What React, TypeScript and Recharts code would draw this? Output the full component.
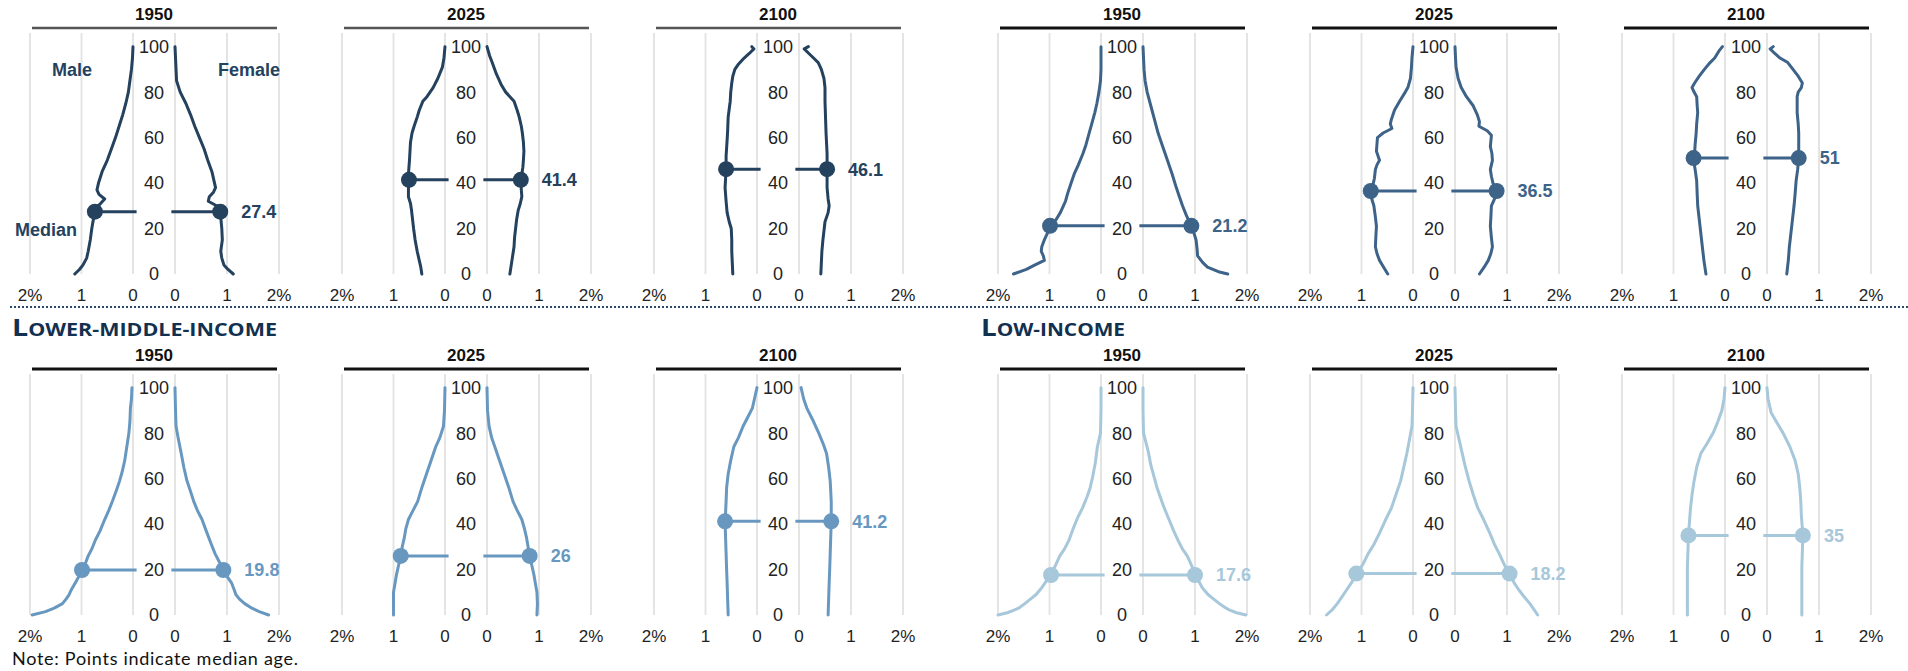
import React from 'react';
import {
  ScatterChart,
  Scatter,
  XAxis,
  YAxis,
  CartesianGrid,
  ReferenceLine,
  ReferenceDot,
} from 'recharts';

// [age, % of population]
type Pair = [number, number];

const YEARS = ['1950', '2025', '2100'];
const SECTION_TITLES = ['Lower-middle-income', 'Low-income'];
const GROUP_COLORS = ['#24415e', '#3e6388', '#6898c0', '#a7c7da'];
const AGE_TICKS = [0, 20, 40, 60, 80, 100];
const PCT_TICKS = [0, 1, 2];

// panel order: high 1950/2025/2100, upper-middle, lower-middle, low
const MEDIAN_AGES = [27.4, 41.4, 46.1, 21.2, 36.5, 51, 19.8, 26, 41.2, 17.6, 18.2, 35];
const MEDIAN_MALE_PCT = [0.74, 0.7, 0.6, 0.99, 0.82, 0.61, 0.99, 0.86, 0.62, 0.97, 1.1, 0.71];
const MEDIAN_FEMALE_PCT = [0.87, 0.65, 0.54, 0.93, 0.8, 0.61, 0.93, 0.82, 0.62, 1.0, 1.05, 0.69];

const high1950Male: Pair[] = [[100,0],[95,0.01],[90,0.03],[85,0.06],[80,0.09],[75,0.14],[70,0.2],[65,0.27],[60,0.34],[55,0.42],[50,0.5],[45,0.6],[40,0.67],[37,0.7],[35,0.66],[33,0.55],[31,0.63],[29,0.73],[27,0.75],[24,0.77],[20,0.8],[15,0.83],[10,0.87],[7,0.9],[4,0.97],[2,1.04],[0,1.13]];
const high1950Female: Pair[] = [[100,0],[95,0.01],[90,0.02],[85,0.03],[80,0.1],[75,0.21],[70,0.3],[65,0.38],[60,0.47],[55,0.56],[50,0.63],[45,0.71],[40,0.76],[38,0.78],[36,0.74],[34,0.66],[32,0.64],[30,0.8],[28,0.86],[25,0.88],[20,0.9],[15,0.91],[10,0.88],[7,0.9],[4,0.94],[2,1.02],[0,1.12]];
const high2025Male: Pair[] = [[100,0],[95,0.02],[91,0.05],[86,0.14],[82,0.23],[78,0.35],[76,0.43],[72,0.5],[69,0.54],[65,0.6],[62,0.64],[58,0.67],[54,0.68],[50,0.69],[47,0.7],[44,0.71],[41,0.7],[37,0.71],[34,0.71],[31,0.67],[28,0.65],[24,0.63],[20,0.61],[15,0.58],[10,0.54],[6,0.5],[3,0.47],[0,0.45]];
const high2025Female: Pair[] = [[100,0],[96,0.05],[93,0.1],[88,0.18],[83,0.28],[80,0.36],[78,0.44],[76,0.52],[72,0.58],[69,0.62],[65,0.66],[62,0.68],[58,0.7],[54,0.71],[50,0.7],[47,0.69],[44,0.67],[41,0.65],[37,0.66],[34,0.67],[31,0.64],[28,0.6],[24,0.57],[20,0.55],[16,0.53],[12,0.52],[6,0.48],[0,0.44]];
const high2100Male: Pair[] = [[100,0.1],[99,0.06],[97,0.15],[95,0.25],[92,0.37],[90,0.43],[87,0.47],[84,0.49],[80,0.51],[76,0.52],[69,0.56],[63,0.57],[59,0.58],[52,0.6],[46,0.6],[42,0.61],[38,0.62],[32,0.6],[27,0.58],[23,0.54],[20,0.5],[15,0.49],[10,0.49],[5,0.48],[0,0.47]];
const high2100Female: Pair[] = [[100,0.18],[99,0.1],[97,0.19],[95,0.28],[93,0.37],[90,0.43],[86,0.48],[82,0.5],[76,0.5],[69,0.51],[62,0.52],[53,0.54],[46,0.54],[38,0.54],[33,0.56],[30,0.58],[27,0.56],[23,0.5],[19,0.48],[15,0.46],[10,0.44],[5,0.43],[0,0.42]];

const upper1950Male: Pair[] = [[100,0],[90,0],[85,0.01],[80,0.04],[75,0.08],[71,0.12],[66,0.18],[62,0.23],[57,0.29],[53,0.35],[48,0.44],[44,0.52],[40,0.58],[36,0.64],[32,0.69],[30,0.73],[27,0.79],[24,0.87],[21,0.98],[18,1.04],[15,1.1],[12,1.15],[10,1.16],[8,1.12],[6,1.1],[4,1.28],[2,1.45],[0,1.7]];
const upper1950Female: Pair[] = [[100,0],[90,0.02],[85,0.04],[80,0.08],[74,0.15],[68,0.22],[62,0.29],[56,0.38],[50,0.47],[44,0.56],[38,0.64],[34,0.7],[30,0.76],[26,0.83],[21,0.93],[18,0.98],[15,1.02],[11,1.04],[8,1.05],[5,1.15],[3,1.24],[1,1.45],[0,1.63]];
const upper2025Male: Pair[] = [[100,0],[95,0.02],[91,0.03],[86,0.05],[82,0.1],[80,0.15],[76,0.26],[72,0.36],[68,0.42],[66,0.44],[64,0.41],[62,0.58],[60,0.69],[57,0.7],[54,0.71],[50,0.65],[48,0.7],[46,0.73],[42,0.75],[39,0.78],[36,0.82],[33,0.8],[30,0.76],[25,0.73],[21,0.71],[17,0.72],[12,0.73],[9,0.7],[6,0.65],[3,0.57],[0,0.49]];
const upper2025Female: Pair[] = [[100,0],[95,0.01],[91,0.02],[86,0.06],[82,0.12],[78,0.22],[74,0.35],[70,0.43],[67,0.47],[65,0.46],[63,0.62],[61,0.7],[56,0.68],[53,0.71],[50,0.72],[46,0.68],[43,0.7],[40,0.73],[36,0.8],[33,0.76],[30,0.7],[25,0.69],[21,0.68],[16,0.7],[12,0.72],[9,0.69],[6,0.64],[3,0.56],[0,0.47]];
const upper2100Male: Pair[] = [[100,0.05],[98,0.12],[95,0.2],[93,0.29],[90,0.4],[87,0.5],[84,0.59],[82,0.64],[80,0.6],[78,0.55],[74,0.54],[71,0.53],[66,0.55],[62,0.56],[57,0.58],[53,0.59],[50,0.61],[46,0.58],[41,0.55],[35,0.54],[30,0.53],[24,0.5],[18,0.47],[12,0.44],[6,0.41],[0,0.37]];
const upper2100Female: Pair[] = [[100,0.12],[99,0.06],[97,0.15],[95,0.25],[93,0.4],[90,0.5],[87,0.6],[84,0.68],[82,0.66],[80,0.6],[78,0.58],[74,0.58],[71,0.58],[66,0.6],[62,0.61],[56,0.61],[51,0.61],[46,0.59],[41,0.56],[35,0.54],[30,0.52],[24,0.49],[18,0.46],[12,0.43],[6,0.41],[0,0.38]];

const lower1950Male: Pair[] = [[100,0.02],[95,0.03],[91,0.05],[85,0.06],[80,0.08],[74,0.12],[68,0.16],[63,0.21],[59,0.26],[55,0.32],[50,0.4],[46,0.47],[42,0.55],[37,0.64],[33,0.73],[29,0.8],[26,0.87],[23,0.92],[20,0.99],[17,1.05],[15,1.1],[13,1.15],[11,1.2],[9,1.24],[7,1.3],[5,1.37],[3,1.53],[1.5,1.7],[0,1.96]];
const lower1950Female: Pair[] = [[100,0],[90,0.01],[83,0.02],[78,0.06],[71,0.12],[65,0.17],[59,0.23],[55,0.29],[50,0.36],[46,0.43],[42,0.52],[37,0.6],[31,0.7],[27,0.77],[23,0.86],[20,0.93],[17,1.0],[14,1.09],[11,1.14],[9,1.17],[7,1.24],[5,1.34],[3,1.48],[1.5,1.62],[0,1.8]];
const lower2025Male: Pair[] = [[100,0],[90,0.01],[83,0.03],[78,0.1],[74,0.18],[68,0.27],[62,0.36],[56,0.45],[50,0.53],[46,0.62],[42,0.71],[38,0.76],[34,0.79],[30,0.83],[26,0.86],[22,0.9],[18,0.94],[14,0.97],[10,1.0],[5,1.0],[0,1.0]];
const lower2025Female: Pair[] = [[100,0],[90,0.01],[83,0.04],[78,0.09],[74,0.15],[68,0.24],[62,0.33],[56,0.42],[50,0.5],[46,0.58],[42,0.67],[38,0.72],[34,0.76],[30,0.79],[26,0.82],[22,0.86],[18,0.9],[14,0.93],[10,0.96],[5,0.97],[0,0.96]];
const lower2100Male: Pair[] = [[100,0],[95,0.05],[91,0.09],[87,0.18],[83,0.27],[78,0.36],[74,0.45],[68,0.51],[62,0.56],[56,0.59],[50,0.6],[45,0.61],[41,0.62],[34,0.61],[27,0.6],[20,0.59],[14,0.58],[7,0.57],[0,0.56]];
const lower2100Female: Pair[] = [[100,0.04],[95,0.09],[91,0.15],[86,0.26],[80,0.38],[75,0.47],[71,0.53],[65,0.57],[59,0.6],[50,0.62],[41,0.62],[34,0.61],[27,0.6],[20,0.59],[14,0.58],[7,0.57],[0,0.56]];

const low1950Male: Pair[] = [[100,0],[90,0],[80,0.01],[74,0.07],[67,0.11],[61,0.16],[56,0.21],[52,0.27],[47,0.36],[43,0.45],[38,0.54],[33,0.62],[29,0.71],[26,0.8],[22,0.88],[18,0.97],[15,1.06],[12,1.15],[9,1.26],[7,1.37],[5,1.48],[3,1.6],[2,1.7],[1,1.82],[0,2.0]];
const low1950Female: Pair[] = [[100,0],[90,0],[80,0.01],[72,0.1],[66,0.15],[61,0.21],[56,0.27],[52,0.33],[47,0.41],[42,0.5],[37,0.59],[33,0.67],[29,0.76],[26,0.85],[22,0.93],[18,1.0],[15,1.07],[12,1.14],[9,1.25],[7,1.36],[5,1.47],[3,1.6],[2,1.68],[1,1.8],[0,1.98]];
const low2025Male: Pair[] = [[100,0],[90,0.01],[83,0.02],[77,0.07],[71,0.12],[65,0.18],[59,0.24],[53,0.33],[47,0.42],[42,0.53],[36,0.65],[31,0.76],[27,0.87],[22,0.98],[18,1.1],[14,1.2],[11,1.29],[8,1.38],[5,1.47],[2,1.58],[0,1.68]];
const low2025Female: Pair[] = [[100,0],[90,0.01],[83,0.02],[77,0.08],[71,0.14],[65,0.2],[59,0.27],[53,0.35],[47,0.44],[42,0.55],[36,0.67],[31,0.76],[27,0.85],[22,0.95],[18,1.05],[14,1.14],[11,1.23],[8,1.33],[5,1.44],[2,1.53],[0,1.59]];
const low2100Male: Pair[] = [[100,0],[95,0.02],[90,0.06],[85,0.14],[80,0.23],[75,0.36],[71,0.47],[65,0.55],[59,0.6],[53,0.64],[47,0.67],[41,0.69],[35,0.71],[28,0.72],[21,0.73],[10,0.73],[0,0.73]];
const low2100Female: Pair[] = [[100,0],[95,0.02],[89,0.08],[85,0.18],[80,0.31],[74,0.44],[68,0.54],[62,0.6],[56,0.63],[50,0.65],[44,0.66],[35,0.69],[28,0.68],[21,0.67],[10,0.67],[0,0.67]];

const MALE = [
  high1950Male, high2025Male, high2100Male,
  upper1950Male, upper2025Male, upper2100Male,
  lower1950Male, lower2025Male, lower2100Male,
  low1950Male, low2025Male, low2100Male,
];
const FEMALE = [
  high1950Female, high2025Female, high2100Female,
  upper1950Female, upper2025Female, upper2100Female,
  lower1950Female, lower2025Female, lower2100Female,
  low1950Female, low2025Female, low2100Female,
];

const FONT = '"Liberation Sans", Arial, sans-serif';
const TITLE_FONT = '"Open Sans", Lato, sans-serif';
const NOTE_FONT = 'Lato, "Open Sans", sans-serif';
const GROUP_X = [30, 998];
const ROW_Y = [0, 341];
const PANEL_STEP = 312;
const PLOT_H = 241;
const AXIS_H = 30;
const SIDE_W = 103;
const GAP_W = 42;
const PAD = 20;

const toPoints = (pairs: Pair[]) => pairs.map(([age, pct]) => ({ x: pct, y: age }));
const pctLabel = (v: number) => (v === 2 ? '2%' : String(v));
const noDot = () => <g />;

const AgeTick = (props: any) => {
  const { x, y, payload } = props;
  return (
    <text x={x} y={y} dy="0.355em" textAnchor="middle" fontSize={18} fill="#222" fontFamily={FONT}>
      {payload.value}
    </text>
  );
};

const xTick = { fontSize: 17, fill: '#222', fontFamily: FONT };

function Side({ pairs, median, dotPct, color, female, left, top }: any) {
  const width = female ? GAP_W + SIDE_W + 1 + PAD : SIDE_W + PAD * 2;
  return (
    <div style={{ position: 'absolute', left, top }}>
      <ScatterChart
        width={width}
        height={PLOT_H + AXIS_H}
        margin={female ? { top: 0, right: PAD, bottom: 0, left: 0 } : { top: 0, right: PAD, bottom: 0, left: PAD }}
      >
        <CartesianGrid horizontal={false} stroke="#e4e4e4" strokeWidth={2} />
        <XAxis
          type="number"
          dataKey="x"
          domain={[0, 2]}
          ticks={PCT_TICKS}
          interval={0}
          reversed={!female}
          tickFormatter={pctLabel}
          axisLine={false}
          tickLine={false}
          tickSize={0}
          tickMargin={15}
          height={AXIS_H}
          tick={xTick}
        />
        {female ? (
          <YAxis
            type="number"
            dataKey="y"
            domain={[0, 106]}
            ticks={AGE_TICKS}
            interval={0}
            width={GAP_W}
            axisLine={false}
            tickLine={false}
            tickSize={0}
            tickMargin={21}
            tick={AgeTick}
          />
        ) : (
          <YAxis type="number" dataKey="y" domain={[0, 106]} hide />
        )}
        <ReferenceLine
          segment={[{ x: -0.07, y: median }, { x: dotPct, y: median }]}
          stroke={color}
          strokeWidth={3}
          ifOverflow="visible"
        />
        <Scatter
          data={toPoints(pairs)}
          fill={color}
          line={{ stroke: color, strokeWidth: 3, strokeLinejoin: 'round', strokeLinecap: 'round' }}
          lineJointType="linear"
          shape={noDot}
          isAnimationActive={false}
        />
        <ReferenceDot
          x={dotPct}
          y={median}
          r={8}
          fill={color}
          stroke="none"
          ifOverflow="visible"
          label={
            female
              ? { value: String(median), position: 'right', offset: 13, fill: color, fontSize: 18, fontWeight: 700, fontFamily: FONT }
              : undefined
          }
        />
      </ScatterChart>
    </div>
  );
}

export default function App() {
  const panels = MALE.map((_, i) => {
    const g = Math.floor(i / 3);
    const y = i % 3;
    const x0 = GROUP_X[g % 2] + y * PANEL_STEP;
    const rowTop = ROW_Y[Math.floor(g / 2)];
    return { i, g, y, x0, rowTop };
  });

  return (
    <div style={{ position: 'absolute', left: 0, top: 0, width: 1908, height: 671, background: '#fff', overflow: 'hidden' }}>
      {panels.map(({ i, g, x0, rowTop }) => (
        <React.Fragment key={i}>
          <Side
            pairs={MALE[i]}
            median={MEDIAN_AGES[i]}
            dotPct={MEDIAN_MALE_PCT[i]}
            color={GROUP_COLORS[g]}
            female={false}
            left={x0 - PAD}
            top={rowTop + 33}
          />
          <Side
            pairs={FEMALE[i]}
            median={MEDIAN_AGES[i]}
            dotPct={MEDIAN_FEMALE_PCT[i]}
            color={GROUP_COLORS[g]}
            female
            left={x0 + SIDE_W}
            top={rowTop + 33}
          />
        </React.Fragment>
      ))}
      <svg
        width={1908}
        height={671}
        style={{ position: 'absolute', left: 0, top: 0, pointerEvents: 'none' }}
      >
        {panels.map(({ i, g, y, x0, rowTop }) => (
          <g key={i}>
            <text x={x0 + 124} y={rowTop + 20} textAnchor="middle" fontSize={17} fontWeight={700} fill="#111" fontFamily={FONT}>
              {YEARS[y]}
            </text>
            <line
              x1={x0 + 2}
              x2={x0 + 247}
              y1={rowTop + 28}
              y2={rowTop + 28}
              stroke={g === 0 ? '#555' : '#111'}
              strokeWidth={g === 0 ? 2.3 : 3}
            />
          </g>
        ))}
        <text x={72} y={76} textAnchor="middle" fontSize={18} fontWeight={700} fill={GROUP_COLORS[0]} fontFamily={FONT}>Male</text>
        <text x={280} y={76} textAnchor="end" fontSize={18} fontWeight={700} fill={GROUP_COLORS[0]} fontFamily={FONT}>Female</text>
        <text x={15} y={236} fontSize={18} fontWeight={700} fill={GROUP_COLORS[0]} fontFamily={FONT}>Median</text>
        <line x1={10} x2={1908} y1={307} y2={307} stroke="#2c4a6a" strokeWidth={2} strokeDasharray="2 2" />
        {SECTION_TITLES.map((t, k) => (
          <text
            key={t}
            x={k === 0 ? 12 : 981}
            y={336}
            fontFamily={TITLE_FONT}
            fontWeight={700}
            fill="#12304f"
            textLength={k === 0 ? 265 : 144}
            lengthAdjust="spacingAndGlyphs"
          >
            <tspan fontSize={24}>{t[0].toUpperCase()}</tspan>
            <tspan fontSize={18}>{t.slice(1).toUpperCase()}</tspan>
          </text>
        ))}
        <text x={12} y={665} fontSize={18} fill="#111" fontFamily={NOTE_FONT} textLength={286} lengthAdjust="spacing">
          Note: Points indicate median age.
        </text>
      </svg>
    </div>
  );
}
